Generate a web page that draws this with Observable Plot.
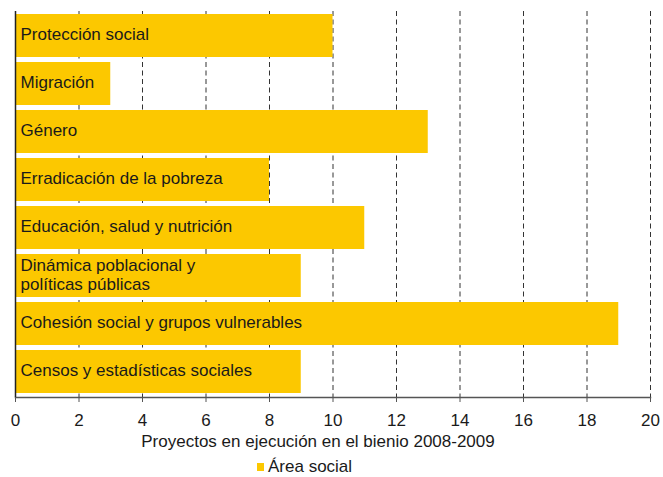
<!DOCTYPE html>
<html>
<head>
<meta charset="utf-8">
<script src="https://cdn.jsdelivr.net/npm/d3@7"></script>
<script src="https://cdn.jsdelivr.net/npm/@observablehq/plot@0.6"></script>
<style>
  body { margin: 0; background: #fff; font-family: "Liberation Sans", Arial, sans-serif; position: relative; }
  #legend { position: relative; height: 27px; font-size: 17px; color: #1a1a1a; }
  #legend .sw { position: absolute; left: 257px; top: 13px; width: 7px; height: 8px; background: #fcc800; }
  #legend .lb { position: absolute; left: 268px; top: 7px; line-height: 20px; white-space: nowrap; }
</style>
</head>
<body>
<div id="chart"></div>
<div id="legend"><span class="sw"></span><span class="lb">Área social</span></div>
<script>
const categories = [
  "Protección social",
  "Migración",
  "Género",
  "Erradicación de la pobreza",
  "Educación, salud y nutrición",
  "Dinámica poblacional y\npolíticas públicas",
  "Cohesión social y grupos vulnerables",
  "Censos y estadísticas sociales"
];
const values = [10, 3, 13, 8, 11, 9, 19, 9];
const xTicks = [0, 2, 4, 6, 8, 10, 12, 14, 16, 18, 20];
const xLabel = "Proyectos en ejecución en el bienio 2008-2009";

const data = categories.map((c, i) => ({c, v: values[i]}));

const chart = Plot.plot({
  width: 663,
  height: 450,
  marginTop: 11,
  marginBottom: 53,
  marginLeft: 15,
  marginRight: 13,
  style: {fontFamily: "Liberation Sans, Arial, sans-serif", fontSize: "17px", color: "#1a1a1a"},
  x: {domain: [0, 20]},
  y: {domain: categories, paddingInner: 0.1, paddingOuter: 0.05, axis: null},
  marks: [
    Plot.ruleX(xTicks.filter(d => d > 0), {stroke: "#333", strokeDasharray: "5,3.5", strokeWidth: 1}),
    Plot.barX(data, {x: "v", y: "c", fill: "#fcc800"}),
    Plot.text(data, {x: 0, y: "c", text: "c", textAnchor: "start", dx: 5, dy: -1.5, fontSize: 17, fill: "#1a1a1a", lineHeight: 1.1}),
    Plot.axisX({ticks: xTicks, tickSize: 5, tickPadding: 11, label: null, fontSize: 17, stroke: "#555"}),
    Plot.frame({anchor: "bottom", stroke: "#555", strokeWidth: 1.5}),
    Plot.ruleX([0], {stroke: "#222", strokeWidth: 1.5}),
    Plot.text([xLabel], {frameAnchor: "bottom", lineAnchor: "middle", dy: 44.5, dx: -15, fontSize: 17, fill: "#1a1a1a"})
  ]
});
document.getElementById("chart").appendChild(chart);
</script>
</body>
</html>
